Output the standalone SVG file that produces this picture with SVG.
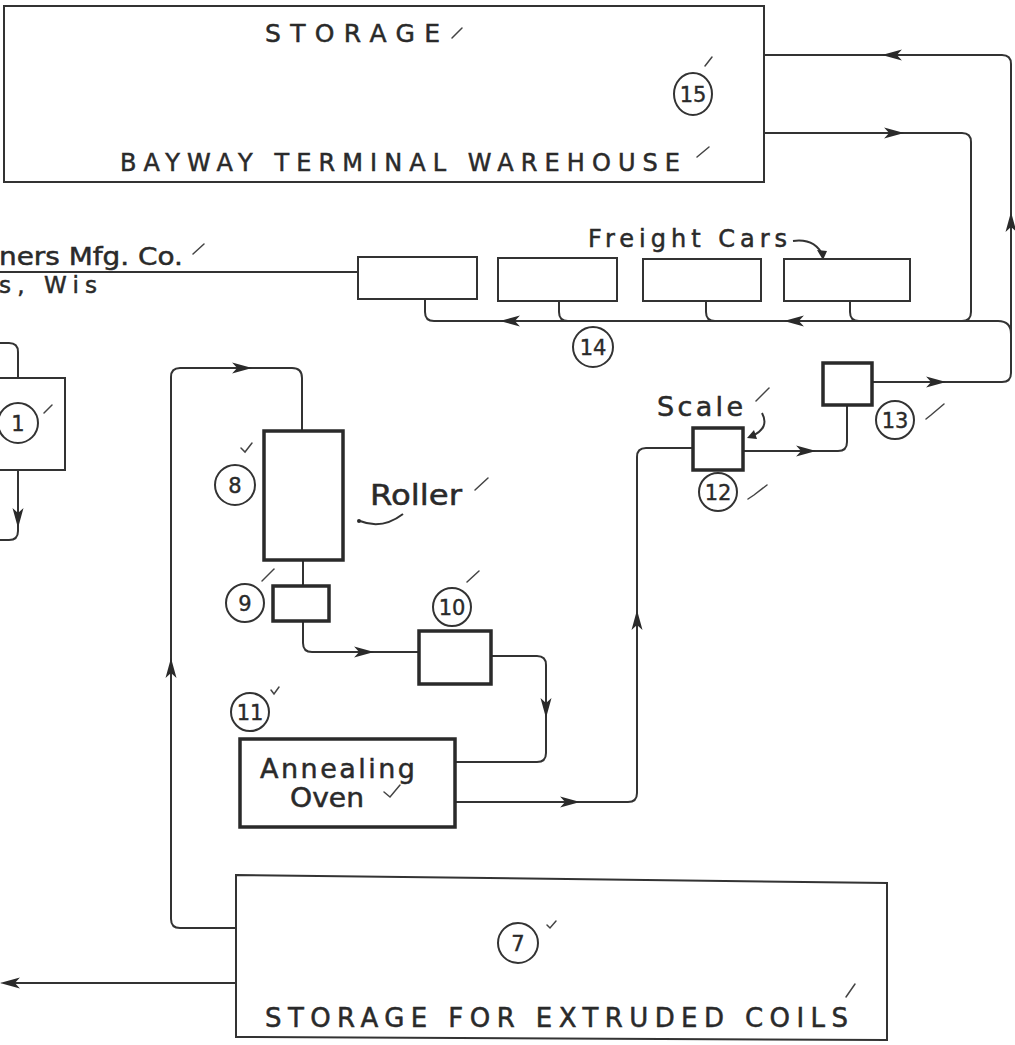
<svg xmlns="http://www.w3.org/2000/svg" width="1015" height="1045" viewBox="0 0 1015 1045">
<style>
.thin{fill:none;stroke:#333;stroke-width:2}
.thick{fill:none;stroke:#2a2a2a;stroke-width:3.5}
.conn{fill:none;stroke:#333;stroke-width:2}
.tick{fill:none;stroke:#444;stroke-width:1.5;stroke-linecap:round}
.num{fill:none;stroke:#333;stroke-width:2}
.t{font-family:"DejaVu Sans","Liberation Sans",Arial,sans-serif;fill:#2a2a2a;stroke:#2a2a2a;stroke-width:0.5}
.n{font-family:"DejaVu Sans","Liberation Sans",Arial,sans-serif;fill:#2a2a2a;stroke:#2a2a2a;stroke-width:0.4;font-size:21px;text-anchor:middle}
.ah{stroke:none}
</style>
<defs>
<marker id="arr" markerUnits="userSpaceOnUse" markerWidth="24" markerHeight="14" viewBox="-20 -7 24 14" refX="0" refY="0" orient="auto">
<path d="M2 0 L-18 -5.5 L-13 0 L-18 5.5 Z" fill="#2a2a2a"/>
</marker>
</defs>
<rect width="1015" height="1045" fill="#fff"/>

<g id="connectors">
<path class="conn" d="M764 55 H1002 Q1011 55 1011 64 V373 Q1011 382 1002 382 H872"/>
<path class="conn" d="M764 133 H962 Q971 133 971 142 V312 Q971 321 962 321"/>
<path class="conn" d="M1011 334 Q1011 321 998 321 H434 Q425 321 425 312 V299"/>
<path class="conn" d="M559 301 V312 Q559 321 568 321"/>
<path class="conn" d="M706 301 V312 Q706 321 715 321"/>
<path class="conn" d="M850 301 V312 Q850 321 859 321"/>
<path class="conn" d="M0 272 H358"/>
<path class="conn" d="M18 378 V352 Q18 343 9 343 H0"/>
<path class="conn" d="M18 470 V531 Q18 540 9 540 H0"/>
<path class="conn" d="M237 928 H180 Q171 928 171 919 V377 Q171 368 180 368 H292 Q302 368 302 378 V430"/>
<path class="conn" d="M303 560 V585"/>
<path class="conn" d="M303 621 V643 Q303 652 312 652 H418"/>
<path class="conn" d="M492 656 H537 Q546 656 546 665 V753 Q546 762 537 762 H455"/>
<path class="conn" d="M455 802 H628 Q637 802 637 793 V457 Q637 448 646 448 H692"/>
<path class="conn" d="M743 451 H838 Q847 451 847 442 V405"/>
<path class="conn" d="M237 983 H4"/>
<!-- arrowheads -->
<path class="conn" d="M884 55 l-0.1 0" marker-end="url(#arr)"/>
<path class="conn" d="M1011 214 l0 -0.1" marker-end="url(#arr)"/>
<path class="conn" d="M944 382 l0.1 0" marker-end="url(#arr)"/>
<path class="conn" d="M902 133 l0.1 0" marker-end="url(#arr)"/>
<path class="conn" d="M786 321 l-0.1 0" marker-end="url(#arr)"/>
<path class="conn" d="M502 321 l-0.1 0" marker-end="url(#arr)"/>
<path class="conn" d="M18 526 l0 0.1" marker-end="url(#arr)"/>
<path class="conn" d="M250 368 l0.1 0" marker-end="url(#arr)"/>
<path class="conn" d="M171 660 l0 -0.1" marker-end="url(#arr)"/>
<path class="conn" d="M372 652 l0.1 0" marker-end="url(#arr)"/>
<path class="conn" d="M546 716 l0 0.1" marker-end="url(#arr)"/>
<path class="conn" d="M578 802 l0.1 0" marker-end="url(#arr)"/>
<path class="conn" d="M637 612 l0 -0.1" marker-end="url(#arr)"/>
<path class="conn" d="M814 451 l0.1 0" marker-end="url(#arr)"/>
<path class="conn" d="M2 983 l-0.1 0" marker-end="url(#arr)"/>
<!-- pointer curls -->
<path class="conn" d="M793 241 Q815 238 823 256" />
<path class="ah" fill="#2a2a2a" d="M823 260 L817 250 L827 251 Z"/>
<path class="conn" d="M762 413 Q770 428 752 436"/>
<path class="ah" fill="#2a2a2a" d="M747 438 L754 430 L757 439 Z"/>
<path class="conn" d="M360 521 Q382 530 403 514"/>
<circle cx="359" cy="521" r="2" fill="#2a2a2a"/>
</g>

<g id="n15">
<rect class="thin" x="4" y="6" width="760" height="176"/>
<text class="t" x="265" y="42" font-size="25" textLength="175" lengthAdjust="spacing">STORAGE</text>
<text class="t" x="120" y="171" font-size="24" textLength="560" lengthAdjust="spacing">BAYWAY TERMINAL WAREHOUSE</text>
<ellipse class="num" cx="693" cy="94" rx="19" ry="21"/>
<text class="n" x="693" y="102">15</text>
<path class="tick" d="M452 38 L462 28"/>
<path class="tick" d="M705 66 L712 57"/>
<path class="tick" d="M697 157 L709 147"/>
</g>

<g id="freight-cars">
<rect class="thin" x="358" y="257" width="119" height="42"/>
<rect class="thin" x="498" y="258" width="119" height="43"/>
<rect class="thin" x="643" y="259" width="118" height="42"/>
<rect class="thin" x="784" y="259" width="126" height="42"/>
<text class="t" x="588" y="247" font-size="24" textLength="199" lengthAdjust="spacing">Freight Cars</text>
</g>

<g id="n14">
<circle class="num" cx="593" cy="347" r="20"/>
<text class="n" x="593" y="355">14</text>
</g>

<g id="source">
<text class="t" x="-1" y="265" font-size="25" textLength="184" lengthAdjust="spacingAndGlyphs">ners Mfg. Co.</text>
<text class="t" x="-1" y="293" font-size="23" textLength="98" lengthAdjust="spacing">s, Wis</text>
<path class="tick" d="M193 254 L204 244"/>
</g>

<g id="n1">
<rect class="thin" x="-3" y="378" width="68" height="92"/>
<circle class="num" cx="18" cy="423" r="20"/>
<text class="n" x="18" y="431">1</text>
<path class="tick" d="M44 413 L52 405"/>
</g>

<g id="n8">
<rect class="thick" x="264" y="431" width="79" height="129"/>
<circle class="num" cx="235" cy="485" r="20"/>
<text class="n" x="235" y="493">8</text>
<path class="tick" d="M241 448 L245 452 L252 443"/>
<text class="t" x="370" y="505" font-size="28" textLength="92" lengthAdjust="spacingAndGlyphs">Roller</text>
<path class="tick" d="M475 490 L488 478"/>
</g>

<g id="n9">
<rect class="thick" x="273" y="586" width="56" height="35"/>
<circle class="num" cx="245" cy="603" r="19"/>
<text class="n" x="245" y="611">9</text>
<path class="tick" d="M262 581 L274 569"/>
</g>

<g id="n10">
<rect class="thick" x="419" y="631" width="72" height="53"/>
<circle class="num" cx="452" cy="607" r="19"/>
<text class="n" x="452" y="615">10</text>
<path class="tick" d="M467 582 L479 571"/>
</g>

<g id="n11">
<rect class="thick" x="240" y="739" width="215" height="88"/>
<circle class="num" cx="250" cy="712" r="19"/>
<text class="n" x="250" y="720">11</text>
<path class="tick" d="M271 690 L274 694 L279 687"/>
<text class="t" x="260" y="778" font-size="27" textLength="155" lengthAdjust="spacing">Annealing</text>
<text class="t" x="290" y="807" font-size="27" textLength="74" lengthAdjust="spacingAndGlyphs">Oven</text>
<path class="tick" d="M384 792 L390 797 L400 785"/>
</g>

<g id="n12">
<rect class="thick" x="693" y="428" width="50" height="42"/>
<circle class="num" cx="718" cy="492" r="19"/>
<text class="n" x="718" y="500">12</text>
<text class="t" x="657" y="416" font-size="27" textLength="86" lengthAdjust="spacing">Scale</text>
<path class="tick" d="M756 401 L769 388"/>
<path class="tick" d="M748 499 L754 495 L767 485"/>
</g>

<g id="n13">
<rect class="thick" x="823" y="363" width="49" height="42"/>
<circle class="num" cx="895" cy="420" r="19"/>
<text class="n" x="895" y="428">13</text>
<path class="tick" d="M926 419 L931 415 L944 404"/>
</g>

<g id="n7">
<path class="thin" d="M236 875 L887 883 L887 1040 L236 1037 Z"/>
<circle class="num" cx="518" cy="943" r="20"/>
<text class="n" x="518" y="951">7</text>
<path class="tick" d="M547 925 L550 928 L556 921"/>
<text class="t" x="265" y="1027" font-size="26" textLength="583" lengthAdjust="spacing">STORAGE FOR EXTRUDED COILS</text>
<path class="tick" d="M846 997 L855 984"/>
</g>
</svg>
